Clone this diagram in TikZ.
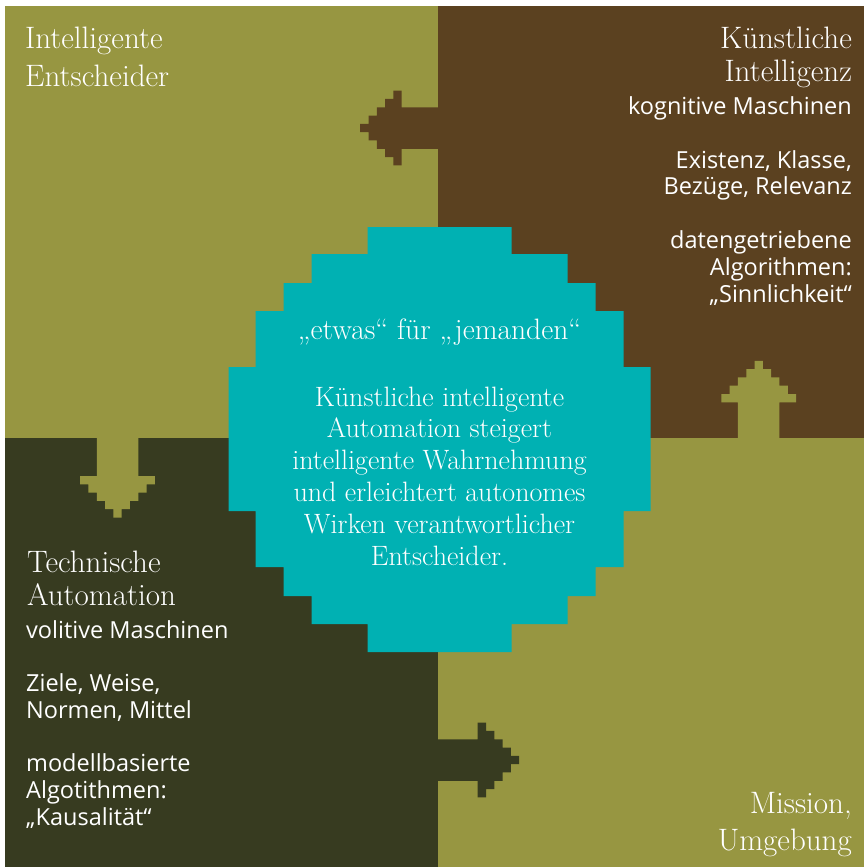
\documentclass[tikz,border=0pt]{standalone}
\usepackage{fontspec}
\newfontfamily\opensans{Open Sans}
\definecolor{oliv}{RGB}{151,150,65}
\definecolor{braun}{RGB}{91,65,32}
\definecolor{dunkel}{RGB}{55,59,32}
\definecolor{petrol}{RGB}{0,177,179}
\begin{document}
\begin{tikzpicture}[x=1pt,y=-1pt,line join=miter,
	titel/.style={text=white,inner sep=0pt,font=\fontsize{31}{38}\selectfont},
	maschine/.style={text=white,inner sep=0pt,font=\opensans\fontsize{23.5}{26.8}\selectfont}]
	\fill[white] (0,0) rectangle (864,867);
	\fill[oliv] (5,6) rectangle (438,438);
	\fill[braun] (438,6) rectangle (864,438);
	\fill[dunkel] (5,438) rectangle (438,867);
	\fill[oliv] (438,438) rectangle (864,867);
	% Treppenpfeile: Mitte an der Grenze, Richtung, Schaftlaenge, Farbe
	\foreach \px/\py/\dreh/\lang/\farbe in {438/128/180/36.3/braun,758.7/438/90/35.7/oliv,117.5/438/-90/38/oliv,438/760/0/39.7/dunkel}
	{
		\begin{scope}[shift={(\px,\py)},rotate=\dreh]
			\fill[\farbe] (-1,-20.75) -- (\lang,-20.75)
				\foreach \i in {0,...,4} { -- (\lang+8.3*\i,{-(4.5-\i)*8.3}) -- (\lang+8.3*\i+8.3,{-(4.5-\i)*8.3}) }
				\foreach \i in {4,...,0} { -- (\lang+8.3*\i+8.3,{(4.5-\i)*8.3}) -- (\lang+8.3*\i,{(4.5-\i)*8.3}) }
				-- (\lang,20.75) -- (-1,20.75) -- cycle;
		\end{scope}
	}
	% Treppenraute
	\fill[petrol] (367.5,227) -- (511.5,227) -- (511.5,254) -- (567.5,254) -- (567.5,283) -- (595.5,283) -- (595.5,311) -- (623.5,311) -- (623.5,367) -- (650.5,367) -- (650.5,511) -- (623.5,511) -- (623.5,567) -- (595.5,567) -- (595.5,596) -- (567.5,596) -- (567.5,624) -- (511.5,624) -- (511.5,652) -- (367.5,652) -- (367.5,624) -- (311.5,624) -- (311.5,596) -- (283.5,596) -- (283.5,567) -- (255.5,567) -- (255.5,511) -- (228.5,511) -- (228.5,367) -- (255.5,367) -- (255.5,311) -- (283.5,311) -- (283.5,283) -- (311.5,283) -- (311.5,254) -- (367.5,254) -- cycle;
	\node[titel,anchor=north west,align=left] (entscheider) at (25,27) {Intelligente\\Entscheider};
	\node[titel,anchor=north east,align=right,font=\fontsize{31}{33}\selectfont] (ki) at (852,27) {Künstliche\\Intelligenz};
	\node[maschine,anchor=north east,align=right] (kognitiv) at (852,96.5) {kognitive Maschinen\\[26.8pt]Existenz, Klasse,\\Bezüge, Relevanz\\[26.8pt]datengetriebene\\Algorithmen:\\„Sinnlichkeit“};
	\node[titel,anchor=north,font=\fontsize{29.5}{32}\selectfont] (motto) at (439.5,318.5) {„etwas“ für „jemanden“};
	\node[titel,anchor=north,align=center,font=\fontsize{28}{31.8}\selectfont] (leitsatz) at (439.5,386.5) {Künstliche intelligente\\Automation steigert\\intelligente Wahrnehmung\\und erleichtert autonomes\\Wirken verantwortlicher\\Entscheider.};
	\node[titel,anchor=north west,align=left,font=\fontsize{31}{33}\selectfont] (automation) at (27,551) {Technische\\Automation};
	\node[maschine,anchor=north west,align=left] (volitiv) at (26,620.5) {volitive Maschinen\\[26.5pt]Ziele, Weise,\\Normen, Mittel\\[26.5pt]modellbasierte\\Algotithmen:\\„Kausalität“};
	\node[titel,anchor=north east,align=right,font=\fontsize{31}{37}\selectfont] (mission) at (852,792) {Mission,\\Umgebung};
\end{tikzpicture}
\end{document}
